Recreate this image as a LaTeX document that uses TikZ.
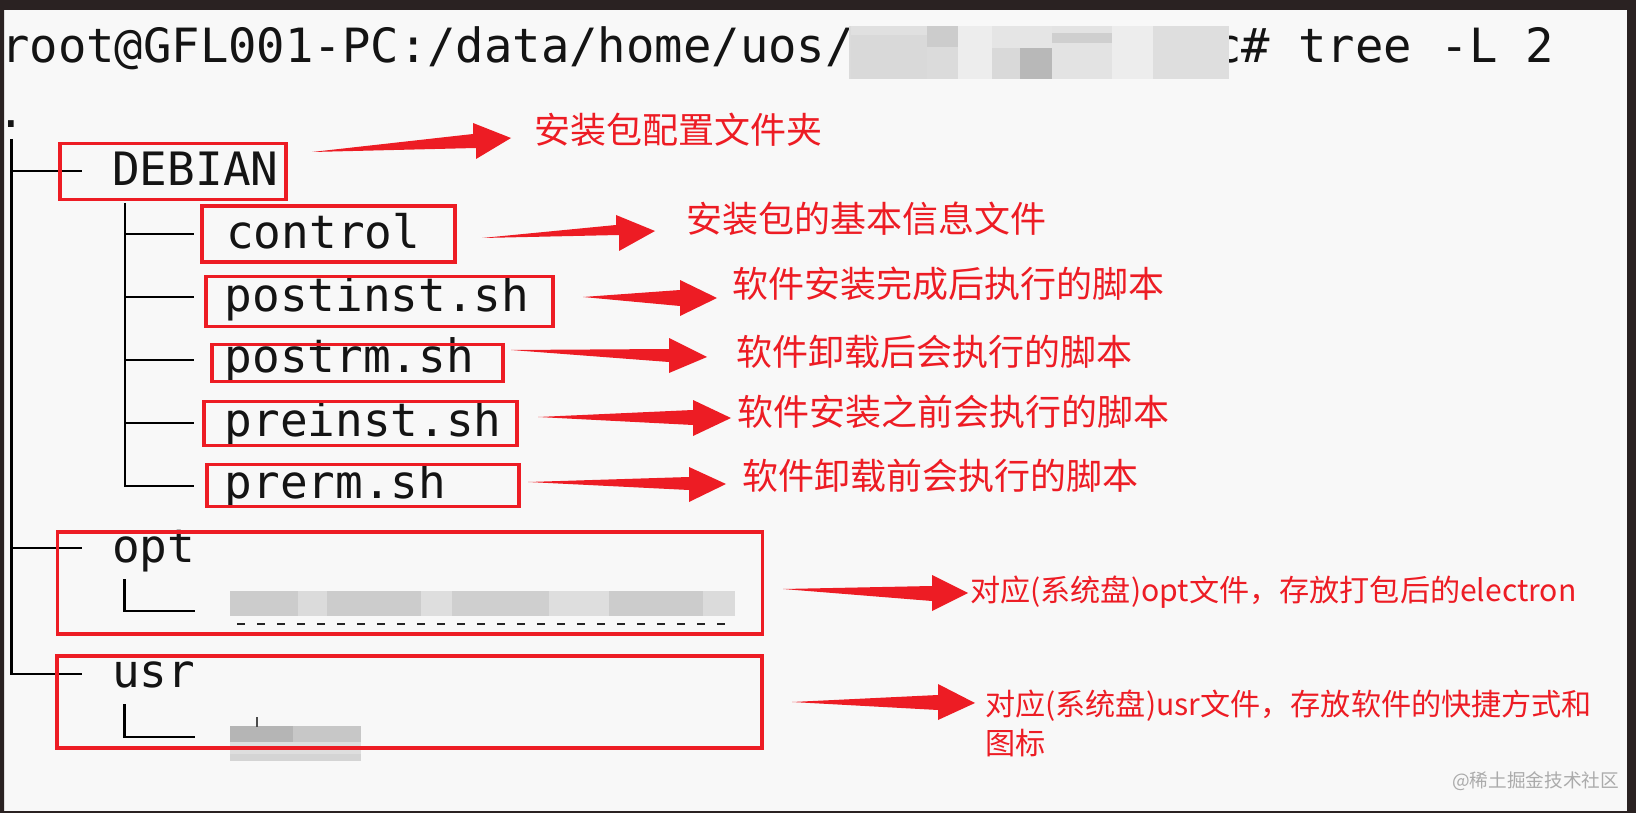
\documentclass[tikz,border=0pt]{standalone}
\usepackage{fontspec}
\setmainfont{Liberation Sans}
\setmonofont{DejaVu Sans Mono}
\newfontfamily\cjk{Noto Sans CJK SC}
\definecolor{appred}{HTML}{ED1C24}
\definecolor{frame}{HTML}{2A2222}
\definecolor{paper}{HTML}{F8F8F8}
\definecolor{wm}{HTML}{ABABAB}
\newcommand{\fatarrow}[6]{\fill[fatarrowstyle] #1 -- #2 -- #3 -- #4 -- #5 -- #6 -- cycle;}
\newcommand{\blur}[5]{\fill[fill=#5] (#1,#2) rectangle (#3,#4);}
\newcommand{\redbox}[5]{\node[redboxstyle, minimum width=#4*0.75pt, minimum height=#5*0.75pt] (#1) at (#2,#3) {};}
\tikzset{
  fatarrowstyle/.style={fill=appred},
  redboxstyle/.style={draw=appred, line width=2.3pt, inner sep=0pt, outer sep=0pt, anchor=north west},
  term/.style={font=\ttfamily\fontsize{34.5}{34.5}\selectfont, text=black!92, anchor=base west, inner sep=0pt},
  termtop/.style={term, font=\ttfamily\fontsize{35.4}{35.4}\selectfont},
  big/.style={font=\cjk\fontsize{27}{27}\selectfont, text=appred, anchor=west, inner sep=0pt},
  small/.style={font=\cjk\fontsize{22.6}{22.6}\selectfont, text=appred, anchor=west, inner sep=0pt},
  treeline/.style={draw=black, line width=2.2pt},
}
\begin{document}
\begin{tikzpicture}[x=0.75pt,y=-0.75pt]
\useasboundingbox (0,0) rectangle (1636,813);
\fill[paper] (4,10) rectangle (1627,811);

% terminal text
\node[termtop] (prompt) at (1,63) {root@GFL001-PC:/data/home/uos/};
\node[termtop] (cmd) at (1213,63) {c\# tree -L 2};
\node[term] (dot) at (-3,128) {.};
\node[term] (debian) at (112,186) {DEBIAN};
\node[term] (control) at (226,248) {control};
\node[term] (postinst) at (224.5,311) {postinst.sh};
\node[term] (postrm) at (224.5,372) {postrm.sh};
\node[term] (preinst) at (224.5,436) {preinst.sh};
\node[term] (prerm) at (224.5,498) {prerm.sh};
\node[term] (opt) at (112,562) {opt};
\node[term] (usr) at (112,687) {usr};

% frame over the clipped left edge of the first line
\fill[frame, even odd rule] (0,0) rectangle (1636,813) (4,10) rectangle (1627,811);

% blurred top block
\blur{849}{26}{1229}{79}{black!14}
\blur{851}{26}{927}{35}{black!12}
\blur{851}{35}{927}{79}{black!15}
\blur{927}{26}{958}{47}{black!20}
\blur{958}{26}{992}{79}{black!7}
\blur{992}{26}{1020}{48}{black!10}
\blur{992}{48}{1020}{79}{black!15}
\blur{1020}{26}{1052}{48}{black!10}
\blur{1020}{48}{1052}{79}{black!28}
\blur{1052}{26}{1112}{79}{black!11}
\blur{1052}{33}{1112}{43}{black!19}
\blur{1112}{26}{1153}{79}{black!7}
\blur{1153}{26}{1229}{79}{black!13}

% blurred opt child
\blur{230}{591}{298}{616}{black!20}
\blur{298}{591}{327}{616}{black!14}
\blur{327}{591}{421}{616}{black!20}
\blur{421}{591}{452}{616}{black!13}
\blur{452}{591}{549}{616}{black!19}
\blur{549}{591}{609}{616}{black!13}
\blur{609}{591}{703}{616}{black!20}
\blur{703}{591}{735}{616}{black!14}
\draw[black!85, line width=1.8pt, dash pattern=on 6pt off 9pt] (237,624) -- (725,624);

% blurred usr child
\blur{230}{726}{293}{742}{black!29}
\blur{293}{726}{361}{742}{black!22}
\blur{230}{742}{361}{754}{black!13}
\blur{230}{754}{361}{761}{black!17}
\draw[black!70, line width=1.5pt] (257,717) -- (257,727);

% tree lines
\coordinate (rootTop) at (11.5,139);
\coordinate (debStub) at (82,171);
\coordinate (optStub) at (82,548);
\coordinate (usrStub) at (82,674);
\coordinate (kidTop) at (125,203);
\coordinate (ctlStub) at (194,234);
\coordinate (pinStub) at (194,297);
\coordinate (prmStub) at (194,360);
\coordinate (prnStub) at (194,423);
\coordinate (rrmStub) at (194,486);
\coordinate (optKidTop) at (124.5,579);
\coordinate (optKid) at (195,611);
\coordinate (usrKidTop) at (124.5,704);
\coordinate (usrKid) at (195,737);
\draw[treeline] (rootTop) |- (usrStub);
\draw[treeline] (rootTop |- debStub) -- (debStub);
\draw[treeline] (rootTop |- optStub) -- (optStub);
\draw[treeline] (kidTop) |- (rrmStub);
\draw[treeline] (kidTop |- ctlStub) -- (ctlStub);
\draw[treeline] (kidTop |- pinStub) -- (pinStub);
\draw[treeline] (kidTop |- prmStub) -- (prmStub);
\draw[treeline] (kidTop |- prnStub) -- (prnStub);
\draw[treeline] (optKidTop) |- (optKid);
\draw[treeline] (usrKidTop) |- (usrKid);

% red boxes
\redbox{bDebian}{60}{143.5}{226}{56}
\redbox{bControl}{202}{206}{253}{56}
\redbox{bPostinst}{206}{276.5}{347}{50}
\redbox{bPostrm}{212}{344.5}{291}{37}
\redbox{bPreinst}{204}{401.5}{313}{44}
\redbox{bPrerm}{207}{464.5}{312}{42}
\redbox{bOpt}{57.5}{532}{705}{102}
\redbox{bUsr}{57}{656}{705}{92}

% arrows
\fatarrow{(312,152)}{(473,134)}{(473,123)}{(511,138)}{(476,159)}{(476,148)}
\fatarrow{(482,238)}{(616,225)}{(616,215)}{(655,231)}{(619,251)}{(619,235)}
\fatarrow{(583,297)}{(680,290)}{(680,280)}{(717,298)}{(680,316)}{(680,306)}
\fatarrow{(511,350)}{(669,349)}{(669,338)}{(707,357)}{(669,373)}{(669,362)}
\fatarrow{(538,417)}{(693,410)}{(693,400)}{(731,418)}{(693,436)}{(693,425)}
\fatarrow{(528,482)}{(689,477)}{(689,467)}{(726,484)}{(689,502)}{(689,490)}
\fatarrow{(783,589)}{(932,586)}{(932,575)}{(968,593)}{(932,611)}{(932,601)}
\fatarrow{(792,702)}{(938,695)}{(938,684)}{(975,703)}{(938,720)}{(938,710)}

% labels
\node[big] (t1) at (534,130) {安装包配置文件夹};
\node[big] (t2) at (686,219) {安装包的基本信息文件};
\node[big] (t3) at (732,284) {软件安装完成后执行的脚本};
\node[big] (t4) at (736,352) {软件卸载后会执行的脚本};
\node[big] (t5) at (737,412) {软件安装之前会执行的脚本};
\node[big] (t6) at (742,476) {软件卸载前会执行的脚本};
\node[small] (t7) at (970,592) {对应(系统盘)opt文件，存放打包后的electron};
\node[small] (t8) at (985,706) {对应(系统盘)usr文件，存放软件的快捷方式和};
\node[small] (t9) at (985,743) {图标};
\node[font=\cjk\fontsize{14}{14}\selectfont, text=wm, anchor=west, inner sep=0pt] (wmark) at (1452,781) {@稀土掘金技术社区};
\end{tikzpicture}
\end{document}
